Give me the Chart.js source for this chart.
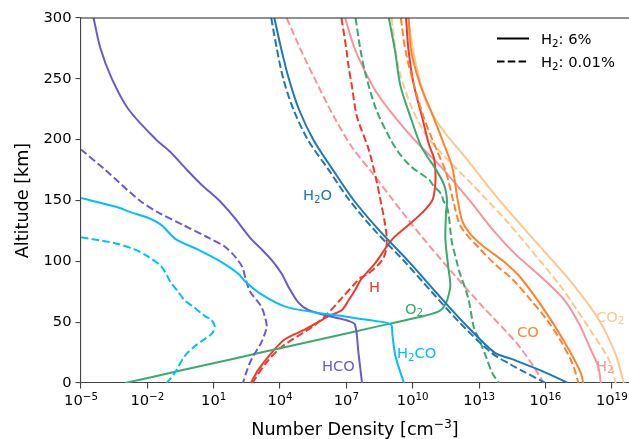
<!DOCTYPE html>
<html>
<head>
<meta charset="utf-8">
<script src="https://cdn.jsdelivr.net/npm/chart.js@4.4.1/dist/chart.umd.min.js"></script>
<style>
  html, body { margin: 0; padding: 0; background: #fff; }
  canvas { display: block; }
</style>
</head>
<body>
<canvas id="profiles" width="629" height="439"></canvas>
<script>
// Number density profiles, H2: 6% (solid) vs H2: 0.01% (dashed)

// x ticks (cm^-3)
const tickVals = [1e-5, 1e-2, 1e1, 1e4, 1e7, 1e10, 1e13, 1e16, 1e19];

// H2O
const altH2O6 = [300, 275, 250, 225, 200, 175, 150, 125, 100, 75, 50, 25, 20, 10, 0];
const h2o6 = [5.5e3, 1.12e4, 2.5e4, 7.1e4, 3.2e5, 2.5e6, 2.2e7, 3.2e8, 6.5e9, 1.07e11, 1.9e12, 5e13, 2.7e14, 6.8e15, 1.07e17];
const altH2OLow = [300, 275, 250, 225, 200, 175, 150, 125, 100, 75, 50, 25, 15, 10, 0];
const h2oLow = [4e3, 7.1e3, 1.4e4, 4e4, 1.8e5, 1.6e6, 1.4e7, 2e8, 4.2e9, 7.1e10, 1.26e12, 3.5e13, 2.8e14, 8.9e14, 1e16];

// HCO
const altHCO6 = [300, 275, 250, 225, 200, 190, 175, 163, 150, 140, 134, 125, 118, 110, 101, 90, 79, 66, 60, 55, 51, 48, 25, 0];
const hco6 = [3.7e-5, 7.6e-5, 2.5e-4, 1.4e-3, 2.5e-2, 0.107, 0.63, 2.8, 17.8, 56, 105, 250, 513, 1.45e3, 4.2e3, 1.17e4, 2.4e4, 6.8e4, 1.9e5, 1.55e6, 1.26e7, 2.45e7, 3.5e7, 5.1e7];
const altHCOLow = [192, 175, 150, 140, 130, 120, 112, 104, 95, 85, 75, 63, 52, 46, 40, 33, 20, 10, 0];
const hcoLow = [1e-5, 1.26e-4, 4.5e-3, 3.2e-2, 0.4, 5, 32, 91, 200, 282, 447, 1.4e3, 2.24e3, 2.5e3, 2e3, 1.4e3, 525, 316, 209];

// H2CO
const altH2CO6 = [152, 145, 140, 136, 130, 118, 110, 100, 90, 83, 73, 63, 58, 55, 53, 51, 49, 47, 40, 22, 0];
const h2co6 = [1e-5, 3.5e-4, 2e-3, 1e-2, 4.2e-2, 0.2, 1.78, 20, 126, 282, 1.4e3, 1.6e4, 4e5, 6.3e6, 3.2e7, 2e8, 8.3e8, 1.12e9, 1.2e9, 1.66e9, 4e9];
const altH2COLow = [119.8, 115, 110, 104, 96, 88, 82, 75, 68, 62, 55, 52, 47, 43, 40, 35, 30, 22, 8, 0];
const h2coLow = [1e-5, 3.2e-4, 2.5e-3, 1.05e-2, 4.2e-2, 7.9e-2, 0.12, 0.25, 0.48, 1.35, 4, 7.8, 11, 10, 7.8, 3.2, 1.35, 0.48, 0.17, 7.6e-2];

// O2
const altO26 = [300, 273, 244, 216, 196, 185, 177, 163, 150, 140, 118, 96, 80, 68, 64, 62, 59, 57, 55, 49, 42, 30, 20, 10, 0];
const o26 = [8.3e8, 1.58e9, 2.8e9, 8.9e9, 2.2e10, 5e10, 1e11, 2.6e11, 3.55e11, 3.2e11, 3e11, 4e11, 5e11, 3.6e11, 2.8e11, 2.4e11, 1.58e11, 7.9e10, 3.2e10, 1.07e9, 2e7, 2.3e4, 81, 0.28, 1e-3];
const altO2Low = [300, 275, 255, 225, 200, 190, 181, 177, 167, 163, 155, 150, 145, 137, 123, 115, 99, 93, 70, 45, 36, 22, 8, 0];
const o2Low = [2.6e7, 4.2e7, 7.1e7, 2.2e8, 1e9, 2.2e9, 5.6e9, 9.5e9, 5.6e10, 7.9e10, 2e11, 2.4e11, 3.5e11, 4.3e11, 5.2e11, 6e11, 1e12, 1.2e12, 3.2e12, 5.9e12, 1e13, 2e13, 4e13, 7.9e13];

// H
const altH6 = [300, 275, 245, 218, 196, 185, 172, 160, 150, 140, 130, 118, 99, 85, 77, 68, 60, 55, 44, 36, 25, 11, 0];
const h6 = [5e9, 6.3e9, 1.12e10, 2.7e10, 5.4e10, 9.1e10, 1.07e11, 1e11, 7.6e10, 2.7e10, 6.6e9, 1.17e9, 2.1e8, 4.5e7, 2.6e7, 1.26e7, 6.2e6, 1.6e6, 1.35e5, 1.66e4, 4.2e3, 1.05e3, 480];
const altHLow = [300, 273, 260, 245, 219, 192, 164, 150, 134, 120, 110, 101, 90, 86, 82, 70, 55, 46, 30, 16, 0];
const hLow = [6e6, 1.02e7, 1.26e7, 1.74e7, 3e7, 1.02e8, 2.45e8, 3.5e8, 5.2e8, 6.6e8, 6.3e8, 4.2e8, 1e8, 4e7, 2.5e7, 6.3e6, 1.1e6, 2.8e5, 1.26e4, 2.2e3, 560];

// H2
const altH26 = [300, 273, 240, 218, 196, 179.7, 160.5, 150.7, 125.2, 105.5, 87.4, 68.5, 47.9, 27.4, 13.4, 0];
const h26 = [8.7e6, 2.6e7, 2.1e8, 1.66e9, 1.9e10, 1.5e11, 1.23e12, 3.5e12, 4.5e13, 4.6e14, 6.2e15, 6.9e16, 3.5e17, 1.12e18, 2.45e18, 3.2e18];
const altH2Low = [300, 273, 245.5, 218, 193.4, 172.6, 150.7, 120.5, 87.6, 62.8, 32.7, 13.5, 0];
const h2Low = [2e4, 9.1e4, 4.9e5, 2.9e6, 1.86e7, 1.5e8, 1.23e9, 2.5e10, 8.7e11, 1.45e13, 5e14, 2.95e15, 8.3e15];

// CO
const altCO6 = [300, 273, 245, 221, 196, 177, 150.7, 132.6, 122, 112, 100, 86.5, 57, 27.4, 8.2, 0];
const co6 = [6.5e9, 8.5e9, 2.2e10, 7.6e10, 2.6e11, 6.2e11, 1.07e12, 1.78e12, 4.2e12, 1.66e13, 1.26e14, 7.6e14, 1.15e16, 1.15e17, 4e17, 5.1e17];
const altCOLow = [300, 273, 245.5, 218, 190.7, 174, 150.7, 128.7, 109.6, 98.6, 85, 68.5, 52, 34.8, 15, 0];
const coLow = [2.9e9, 4.7e9, 1.12e10, 3.2e10, 1.26e11, 3.1e11, 6.6e11, 1.48e12, 1.17e13, 4.6e13, 3.3e14, 2.1e15, 1.15e16, 4.9e16, 1.74e17, 3.1e17];

// CO2
const altCO26 = [300, 275, 250, 229, 207, 185.2, 150.7, 117.8, 83.3, 52, 23.3, 0];
const co26 = [6.3e9, 1e10, 2e10, 4.5e10, 2.5e11, 2.45e12, 7.9e13, 3e15, 1.4e17, 2.6e18, 1.5e19, 3.5e19];
const altCO2Low = [300, 259, 229, 204.3, 185.2, 163.2, 150.7, 134.2, 114.7, 79.4, 41.1, 19.2, 0];
const co2Low = [1.1e9, 2.3e9, 7.9e9, 3.8e10, 3.1e11, 4.9e12, 2.2e13, 1.58e14, 1.26e15, 4.9e16, 1.3e18, 7.4e18, 1.5e19];

// colours
const colH2O = '#1f77b4', colHCO = '#6a5acd', colH2CO = '#00bfff', colO2 = '#3aaa70';
const colH = '#ee3a2c', colH2 = '#f7949c', colCO = '#fc8431', colCO2 = '#fdc88f';

const FONT = '"DejaVu Sans", sans-serif';
const DASH = [7.5, 3.3];

function curve(alt, n, color, dashed) {
    return {
        data: alt.map((a, i) => ({ x: n[i], y: a })),
        borderColor: color,
        borderWidth: 2,
        borderDash: dashed ? DASH : [],
        pointRadius: 0,
        fill: false,
        tension: 0.3
    };
}

// bottom -> top drawing order
const drawOrder = [
    curve(altCO2Low, co2Low, colCO2, true),
    curve(altCO26, co26, colCO2, false),
    curve(altH2Low, h2Low, colH2, true),
    curve(altH26, h26, colH2, false),
    curve(altHLow, hLow, colH, true),
    curve(altH6, h6, colH, false),
    curve(altCOLow, coLow, colCO, true),
    curve(altCO6, co6, colCO, false),
    curve(altO2Low, o2Low, colO2, true),
    curve(altO26, o26, colO2, false),
    curve(altH2OLow, h2oLow, colH2O, true),
    curve(altH2O6, h2o6, colH2O, false),
    curve(altHCOLow, hcoLow, colHCO, true),
    curve(altHCO6, hco6, colHCO, false),
    curve(altH2COLow, h2coLow, colH2CO, true),
    curve(altH2CO6, h2co6, colH2CO, false)
];
const datasets = drawOrder.slice().reverse(); // chart.js paints dataset 0 last

// text with sub/superscripts
function rich(ctx, parts, x, y, size, color, align) {
    let w = 0;
    const segs = parts.map(p => {
        const t = typeof p === 'string' ? p : p[0];
        const mode = typeof p === 'string' ? '' : p[1];
        const s = mode ? size * 0.7 : size;
        ctx.font = s + 'px ' + FONT;
        const sw = ctx.measureText(t).width;
        w += sw;
        return { t, mode, s, sw };
    });
    let cx = align === 'center' ? x - w / 2 : (align === 'right' ? x - w : x);
    ctx.fillStyle = color;
    ctx.textAlign = 'left';
    ctx.textBaseline = 'alphabetic';
    segs.forEach(g => {
        ctx.font = g.s + 'px ' + FONT;
        const dy = g.mode === 'sub' ? size * 0.2 : (g.mode === 'sup' ? -size * 0.36 : 0);
        ctx.fillText(g.t, cx, y + dy);
        cx += g.sw;
    });
}

const curveLabels = [
    { parts: ['H', ['2', 'sub'], 'O'], x: 303, y: 200, color: colH2O },
    { parts: ['H'], x: 369, y: 291.5, color: colH },
    { parts: ['O', ['2', 'sub']], x: 405, y: 313.5, color: colO2 },
    { parts: ['H', ['2', 'sub'], 'CO'], x: 397, y: 358, color: colH2CO },
    { parts: ['HCO'], x: 322, y: 370.5, color: colHCO },
    { parts: ['CO'], x: 517, y: 336.5, color: colCO },
    { parts: ['H', ['2', 'sub']], x: 596, y: 370.5, color: colH2 },
    { parts: ['CO', ['2', 'sub']], x: 596, y: 321.5, color: colCO2 }
];

const decor = {
    id: 'decor',
    afterDraw(chart) {
        const ctx = chart.ctx;
        const area = chart.chartArea;
        const xs = chart.scales.x;
        ctx.save();

        // top spine
        ctx.strokeStyle = '#222';
        ctx.lineWidth = 1.1;
        ctx.beginPath();
        ctx.moveTo(area.left, area.top);
        ctx.lineTo(area.right, area.top);
        ctx.stroke();

        // x tick labels 10^k
        tickVals.forEach(v => {
            const px = xs.getPixelForValue(v);
            const e = String(Math.round(Math.log10(v))).replace('-', '\u2212');
            rich(ctx, ['10', [e, 'sup']], px, 405, 14.7, '#000', 'center');
        });

        // axis titles
        rich(ctx, ['Number Density [cm', ['\u22123', 'sup'], ']'], (area.left + area.right) / 2, 434.5, 17.6, '#000', 'center');
        ctx.save();
        ctx.translate(28, (area.top + area.bottom) / 2);
        ctx.rotate(-Math.PI / 2);
        rich(ctx, ['Altitude [km]'], 0, 0, 17.6, '#000', 'center');
        ctx.restore();

        // species labels
        curveLabels.forEach(l => rich(ctx, l.parts, l.x, l.y, 14.7, l.color, 'left'));

        // legend
        ctx.strokeStyle = '#000';
        ctx.lineWidth = 2;
        ctx.setLineDash([]);
        ctx.beginPath();
        ctx.moveTo(497, 38.5);
        ctx.lineTo(529, 38.5);
        ctx.stroke();
        ctx.setLineDash(DASH);
        ctx.beginPath();
        ctx.moveTo(497, 61.5);
        ctx.lineTo(529, 61.5);
        ctx.stroke();
        ctx.setLineDash([]);
        rich(ctx, ['H', ['2', 'sub'], ': 6%'], 541, 44, 14.7, '#000', 'left');
        rich(ctx, ['H', ['2', 'sub'], ': 0.01%'], 541, 67, 14.7, '#000', 'left');

        ctx.restore();
    }
};

new Chart(document.getElementById('profiles'), {
    type: 'line',
    data: { datasets },
    options: {
        responsive: false,
        animation: false,
        devicePixelRatio: 1,
        layout: { padding: { top: 18, left: 0, right: 0, bottom: 0 } },
        plugins: { legend: { display: false }, tooltip: { enabled: false } },
        scales: {
            x: {
                type: 'logarithmic',
                min: 1e-5,
                max: 6e19,
                afterBuildTicks: scale => { scale.ticks = tickVals.map(v => ({ value: v })); },
                afterFit: scale => { scale.height = 56; },
                ticks: { display: false },
                grid: { drawOnChartArea: false, drawTicks: true, tickLength: 5.5, color: '#444', lineWidth: 1.1 },
                border: { display: true, color: '#444', width: 1.1 }
            },
            y: {
                type: 'linear',
                min: 0,
                max: 300,
                afterFit: scale => { scale.width = 81; },
                ticks: { stepSize: 50, color: '#000', padding: 4, font: { family: FONT, size: 14.7 } },
                grid: { drawOnChartArea: false, drawTicks: true, tickLength: 5.5, color: '#444', lineWidth: 1.1 },
                border: { display: true, color: '#444', width: 1.1 }
            }
        }
    },
    plugins: [decor]
});
</script>
</body>
</html>
